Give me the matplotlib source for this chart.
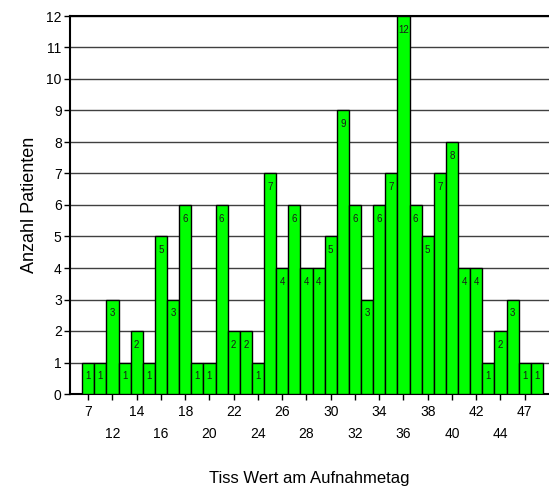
import matplotlib
matplotlib.use("Agg")
import matplotlib.pyplot as plt
import numpy as np

plt.rcParams['font.family'] = ['Liberation Sans', 'DejaVu Sans']

categories = [7, 10] + list(range(12, 45)) + [45, 47, 48]
values = [1, 1, 3, 1, 2, 1, 5, 3, 6, 1, 1, 6, 2, 2, 1, 7, 4, 6, 4, 4,
          5, 9, 6, 3, 6, 7, 12, 6, 5, 7, 8, 4, 4, 1, 2, 3, 1, 1]
xlabel = "Tiss Wert am Aufnahmetag"
ylabel = "Anzahl Patienten"

fig = plt.figure(figsize=(5.49, 4.86), dpi=100)
ax = fig.add_axes([70/549, 92/486, 1 - 70/549, (394-16)/486])

x = np.arange(len(values))
ax.bar(x, values, width=1.0, color='#00FF00', edgecolor='black', linewidth=1.0, zorder=3)
for xi, v in zip(x, values):
    ax.text(xi, v - 0.43, str(v), ha='center', va='center', fontsize=7, color='#1a1a1a', zorder=4)

ax.set_xlim(-1.5, 38)
ax.set_ylim(0, 12)
ax.set_yticks(range(0, 13))
ax.yaxis.grid(True, color='#404040', linewidth=1.0, zorder=0)
ax.set_axisbelow(True)

major = list(range(0, 38, 4))
minor = list(range(2, 38, 4))
ax.set_xticks(major)
ax.set_xticklabels([str(categories[i]) for i in major])
ax.set_xticks(minor, minor=True)
ax.set_xticklabels([str(categories[i]) for i in minor], minor=True)
ax.tick_params(axis='x', which='both', direction='out', length=4, width=1, labelsize=10)
ax.tick_params(axis='x', which='major', pad=4)
ax.tick_params(axis='x', which='minor', pad=20)
ax.tick_params(axis='y', direction='out', length=4, width=1, labelsize=10, pad=2)

for s in ['left', 'bottom', 'top']:
    ax.spines[s].set_color('black')
    ax.spines[s].set_linewidth(1.5)
ax.spines['right'].set_visible(False)

ax.set_ylabel(ylabel, fontsize=13, labelpad=6)
ax.set_xlabel(xlabel, fontsize=12, labelpad=21)

fig.savefig("out.png", dpi=100)
